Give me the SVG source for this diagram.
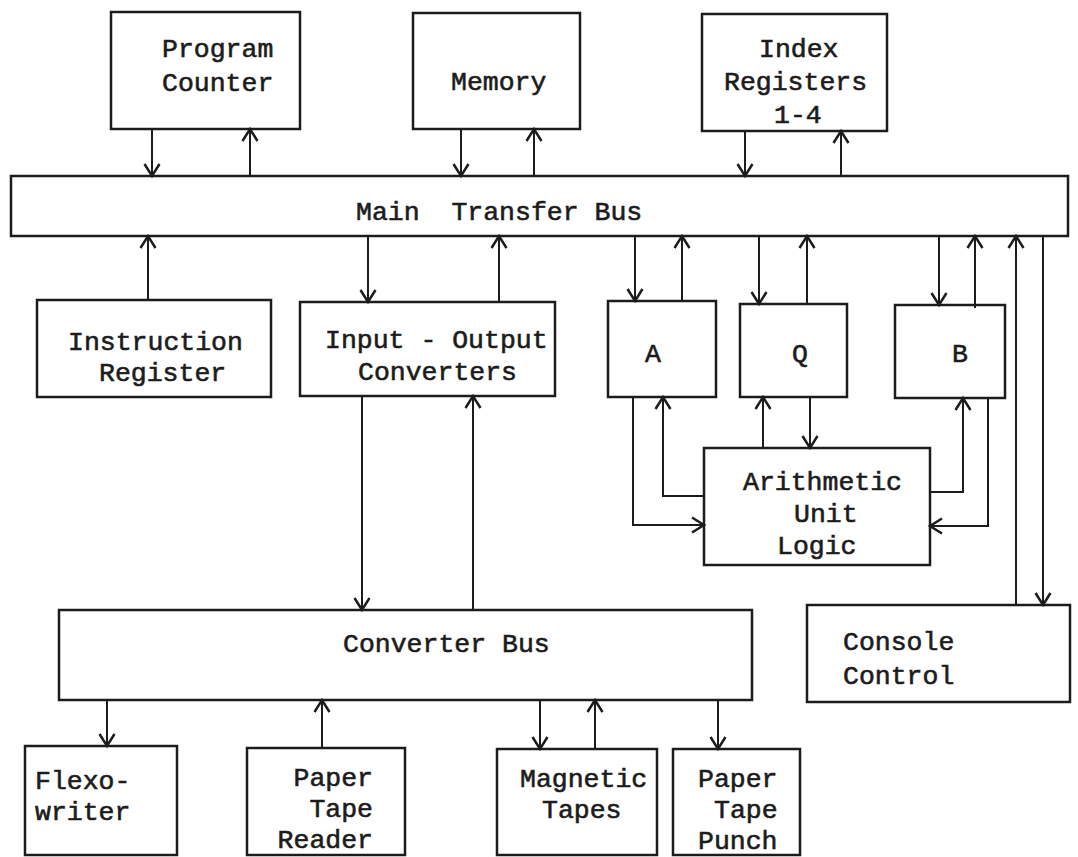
<svg xmlns="http://www.w3.org/2000/svg" width="1078" height="857" viewBox="0 0 1078 857">
<style>
.box{fill:none;stroke:#1c1c1c;stroke-width:2.5}
.ln{fill:none;stroke:#1c1c1c;stroke-width:2;marker-end:url(#ah)}
text{font-family:"Liberation Mono","DejaVu Sans Mono",monospace;font-size:26.5px;fill:#1c1c1c;stroke:#1c1c1c;stroke-width:0.6;white-space:pre}
</style>
<defs>
<marker id="ah" markerUnits="userSpaceOnUse" markerWidth="30" markerHeight="30" refX="0" refY="0" viewBox="-15 -15 30 30" orient="auto" overflow="visible">
<path d="M-12,-7.5 L0,0 L-12,7.5" fill="none" stroke="#1c1c1c" stroke-width="2.5"/>
</marker>
</defs>
<rect width="1078" height="857" fill="#fff"/>
<g id="program-counter"><rect class="box" x="111" y="12" width="189" height="117"/><text x="162" y="57">Program</text><text x="162" y="91">Counter</text></g>
<g id="memory"><rect class="box" x="413" y="13" width="167" height="116"/><text x="451" y="90">Memory</text></g>
<g id="index-registers"><rect class="box" x="702" y="14" width="185" height="117"/><text x="759" y="57">Index</text><text x="724" y="90">Registers</text><text x="774" y="123">1-4</text></g>
<g id="main-transfer-bus"><rect class="box" x="11" y="176" width="1057" height="60"/><text x="356" y="220">Main  Transfer Bus</text></g>
<g id="instruction-register"><rect class="box" x="37" y="300" width="234" height="97"/><text x="68" y="350">Instruction</text><text x="99" y="381">Register</text></g>
<g id="io-converters"><rect class="box" x="300" y="302" width="255" height="94"/><text x="325" y="348">Input - Output</text><text x="358" y="380">Converters</text></g>
<g id="reg-a"><rect class="box" x="608" y="301" width="108" height="96"/><text x="653" y="362" text-anchor="middle">A</text></g>
<g id="reg-q"><rect class="box" x="740" y="304" width="107" height="93"/><text x="800" y="362" text-anchor="middle">Q</text></g>
<g id="reg-b"><rect class="box" x="895" y="305" width="110" height="93"/><text x="960" y="362" text-anchor="middle">B</text></g>
<g id="arithmetic-unit"><rect class="box" x="704" y="448" width="226" height="117"/><text x="743" y="490">Arithmetic</text><text x="794" y="522">Unit</text><text x="777" y="554">Logic</text></g>
<g id="console-control"><rect class="box" x="807" y="605" width="263" height="97"/><text x="843" y="650">Console</text><text x="843" y="684">Control</text></g>
<g id="converter-bus"><rect class="box" x="59" y="610" width="693" height="90"/><text x="343" y="652">Converter Bus</text></g>
<g id="flexowriter"><rect class="box" x="25" y="746" width="152" height="109"/><text x="35" y="789">Flexo-</text><text x="35" y="820">writer</text></g>
<g id="paper-tape-reader"><rect class="box" x="247" y="748" width="158" height="107"/><text x="373" y="786" text-anchor="end">Paper</text><text x="373" y="817" text-anchor="end">Tape</text><text x="373" y="848" text-anchor="end">Reader</text></g>
<g id="magnetic-tapes"><rect class="box" x="497" y="749" width="160" height="106"/><text x="520" y="787">Magnetic</text><text x="542" y="818">Tapes</text></g>
<g id="paper-tape-punch"><rect class="box" x="673" y="749" width="127" height="106"/><text x="698" y="787">Paper</text><text x="714" y="818">Tape</text><text x="698" y="849">Punch</text></g>
<g id="connectors">
<path class="ln" d="M152,129 V176"/>
<path class="ln" d="M250,176 V129"/>
<path class="ln" d="M461,129 V176"/>
<path class="ln" d="M534,176 V129"/>
<path class="ln" d="M745,131 V176"/>
<path class="ln" d="M841,176 V131"/>
<path class="ln" d="M148,300 V236"/>
<path class="ln" d="M368,236 V302"/>
<path class="ln" d="M499,302 V236"/>
<path class="ln" d="M635,236 V301"/>
<path class="ln" d="M682,301 V236"/>
<path class="ln" d="M759,236 V304"/>
<path class="ln" d="M807,304 V236"/>
<path class="ln" d="M939,236 V305"/>
<path class="ln" d="M975,308 V236"/>
<path class="ln" d="M1016,605 V236"/>
<path class="ln" d="M1043,236 V605"/>
<path class="ln" d="M633,397 V525 H704"/>
<path class="ln" d="M704,496 H663 V397"/>
<path class="ln" d="M763,448 V397"/>
<path class="ln" d="M810,397 V448"/>
<path class="ln" d="M930,492 H963 V398"/>
<path class="ln" d="M988,398 V526 H930"/>
<path class="ln" d="M362,396 V610"/>
<path class="ln" d="M473,610 V396"/>
<path class="ln" d="M107,700 V746"/>
<path class="ln" d="M322,748 V700"/>
<path class="ln" d="M540,700 V749"/>
<path class="ln" d="M595,749 V700"/>
<path class="ln" d="M718,700 V749"/>
</g>
</svg>
